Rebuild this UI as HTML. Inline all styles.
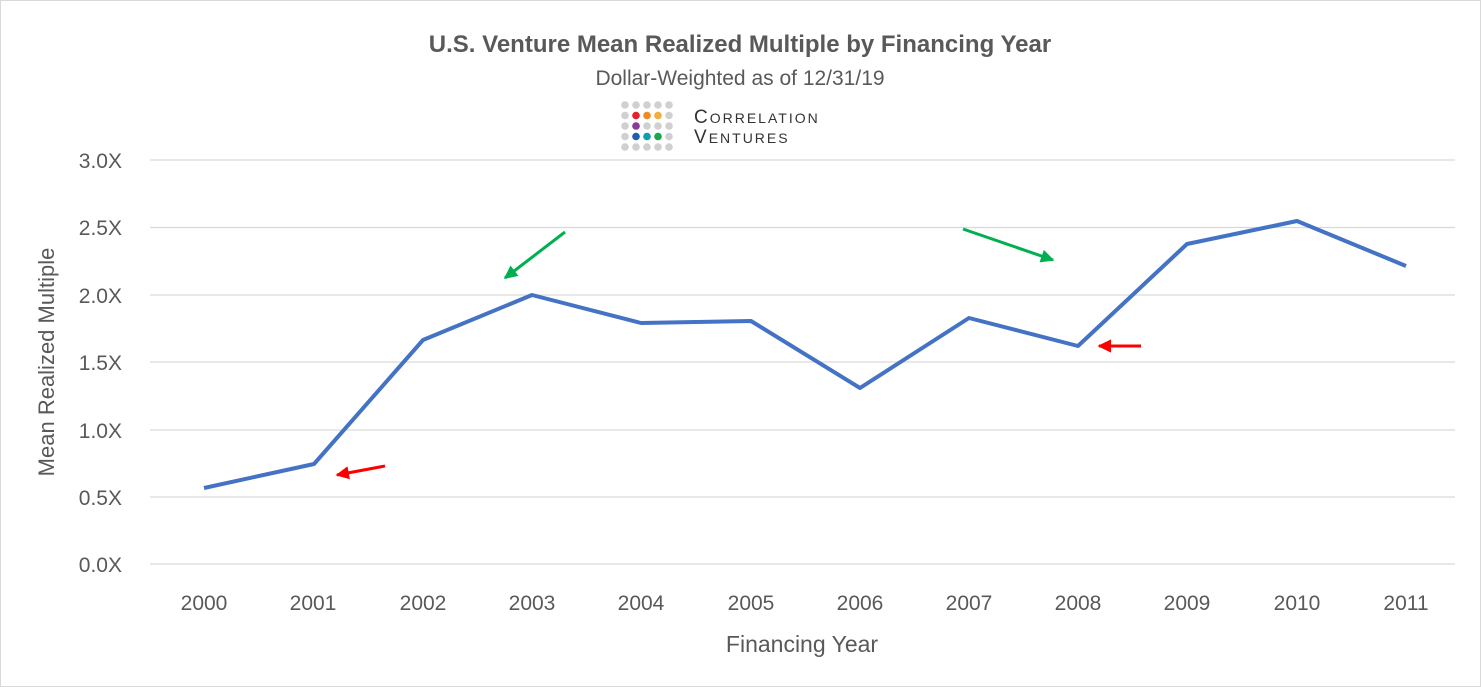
<!DOCTYPE html>
<html><head><style>body{margin:0;background:#fff}svg{display:block}</style></head><body>
<svg width="1481" height="687" viewBox="0 0 1481 687" xmlns="http://www.w3.org/2000/svg" font-family="Liberation Sans, sans-serif">
<rect x="0.5" y="0.5" width="1480" height="686" fill="#fff" stroke="#d9d9d9"/>
<text x="740" y="52" text-anchor="middle" font-size="24" font-weight="bold" fill="#595959">U.S. Venture Mean Realized Multiple by Financing Year</text>
<text x="740" y="85" text-anchor="middle" font-size="21" fill="#595959">Dollar-Weighted as of 12/31/19</text>
<g fill="#d0d0d0">
<g id="r"><circle cx="625" cy="105" r="3.8"/><circle cx="636" cy="105" r="3.8"/><circle cx="647" cy="105" r="3.8"/><circle cx="658" cy="105" r="3.8"/><circle cx="669" cy="105" r="3.8"/></g>
<use href="#r" y="10.5"/><use href="#r" y="21"/><use href="#r" y="31.5"/><use href="#r" y="42"/>
</g>
<circle cx="636" cy="115.5" r="3.8" fill="#e8202a"/><circle cx="647" cy="115.5" r="3.8" fill="#f08a24"/><circle cx="658" cy="115.5" r="3.8" fill="#f0b040"/>
<circle cx="636" cy="126" r="3.8" fill="#8a3a9a"/>
<circle cx="636" cy="136.5" r="3.8" fill="#1f5fae"/><circle cx="647" cy="136.5" r="3.8" fill="#0aa0b0"/><circle cx="658" cy="136.5" r="3.8" fill="#1aa84a"/>
<text x="694" y="123" font-size="19" fill="#333" letter-spacing="2">C<tspan font-size="14">ORRELATION</tspan></text>
<text x="694" y="143" font-size="19" fill="#333" letter-spacing="2">V<tspan font-size="14">ENTURES</tspan></text>
<g stroke="#d9d9d9" stroke-width="1.3">
<line x1="150" x2="1455" y1="160" y2="160"/><line x1="150" x2="1455" y1="227.5" y2="227.5"/><line x1="150" x2="1455" y1="295" y2="295"/><line x1="150" x2="1455" y1="362" y2="362"/><line x1="150" x2="1455" y1="430" y2="430"/><line x1="150" x2="1455" y1="497" y2="497"/><line x1="150" x2="1455" y1="564" y2="564"/>
</g>
<g font-size="21" fill="#595959" text-anchor="end">
<text x="122" y="168">3.0X</text><text x="122" y="235">2.5X</text><text x="122" y="303">2.0X</text><text x="122" y="370">1.5X</text><text x="122" y="438">1.0X</text><text x="122" y="505">0.5X</text><text x="122" y="572">0.0X</text>
</g>
<g font-size="21" fill="#595959" text-anchor="middle">
<text x="204" y="610">2000</text><text x="313" y="610">2001</text><text x="423" y="610">2002</text><text x="532" y="610">2003</text><text x="641" y="610">2004</text><text x="751" y="610">2005</text><text x="860" y="610">2006</text><text x="969" y="610">2007</text><text x="1078" y="610">2008</text><text x="1187" y="610">2009</text><text x="1297" y="610">2010</text><text x="1406" y="610">2011</text>
<text x="802" y="652" font-size="23">Financing Year</text>
<text transform="translate(54,362) rotate(-90)" font-size="22">Mean Realized Multiple</text>
</g>
<polyline fill="none" stroke="#4472c4" stroke-width="4" stroke-linejoin="round" points="204,488 314,464 423,340 532,295 641,323 751,321 860,388 969,318 1078,346 1187,244 1297,221 1406,266"/>
<defs>
<marker id="ar" markerWidth="6" markerHeight="6" refX="4" refY="3" orient="auto" markerUnits="strokeWidth"><path d="M0,0.8 L4.5,3 L0,5.2z" fill="#f00"/></marker>
<marker id="ag" markerWidth="6" markerHeight="6" refX="4" refY="3" orient="auto" markerUnits="strokeWidth"><path d="M0,0.8 L4.5,3 L0,5.2z" fill="#00b050"/></marker>
</defs>
<g stroke-width="3">
<line x1="385" y1="466" x2="337" y2="475" stroke="#f00" marker-end="url(#ar)"/>
<line x1="1141" y1="346" x2="1099" y2="346" stroke="#f00" marker-end="url(#ar)"/>
<line x1="565" y1="232" x2="505" y2="278" stroke="#00b050" marker-end="url(#ag)"/>
<line x1="963" y1="229" x2="1053" y2="260" stroke="#00b050" marker-end="url(#ag)"/>
</g>
</svg>
</body></html>
